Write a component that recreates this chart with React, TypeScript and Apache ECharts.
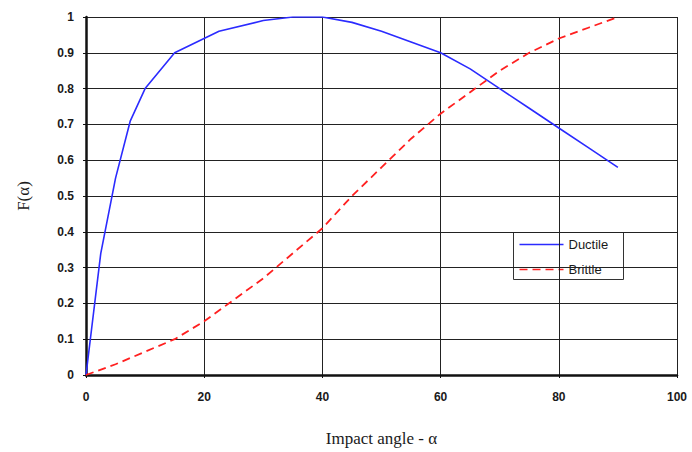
import React, { useEffect, useRef } from "react";
import * as echarts from "echarts";

const xTicks = [0, 20, 40, 60, 80, 100];
const ductileAngles = [0, 2.5, 5, 7.5, 10, 15, 22.5, 30, 35, 40, 45, 50, 55, 60, 65, 70, 75, 80, 85, 90];
const ductileValues = [0, 0.34, 0.55, 0.71, 0.8, 0.9, 0.96, 0.99, 1.0, 1.0, 0.985, 0.96, 0.93, 0.9, 0.855, 0.8, 0.745, 0.69, 0.635, 0.58];
const brittleAngles = [0, 5, 10, 15, 20, 25, 30, 35, 40, 45, 50, 55, 60, 65, 70, 75, 80, 85, 90];
const brittleValues = [0, 0.03, 0.065, 0.1, 0.15, 0.21, 0.27, 0.34, 0.41, 0.5, 0.58, 0.66, 0.73, 0.79, 0.85, 0.9, 0.94, 0.97, 1.0];
const legendNames = ["Ductile", "Brittle"];

const BLUE = "#2b2bff";
const RED = "#ff2020";
const DASH = [8, 5];

export default function App() {
  const ref = useRef<HTMLDivElement>(null);
  useEffect(() => {
    if (!ref.current) return;
    const chart = echarts.init(ref.current, undefined, { renderer: "svg" });
    const labelFont = { fontFamily: "Liberation Sans, Arial, sans-serif", fontSize: 12, color: "#1a1a1a", fontWeight: "bold" as const };
    const legendFont = { fontFamily: "Liberation Sans, Arial, sans-serif", fontSize: 13, fill: "#1a1a1a" };
    chart.setOption({
      animation: false,
      backgroundColor: "#ffffff",
      grid: { left: 86, right: 15, top: 17, bottom: 74 },
      graphic: [
        {
          type: "group",
          left: 513,
          top: 232,
          z: 100,
          children: [
            { type: "rect", shape: { x: 0, y: 0, width: 110, height: 47 }, style: { fill: "#fff", stroke: "#333", lineWidth: 1 } },
            { type: "line", shape: { x1: 6, y1: 12, x2: 50, y2: 12 }, style: { stroke: BLUE, lineWidth: 1.6 } },
            { type: "text", x: 55, y: 12, style: { ...legendFont, text: legendNames[0], verticalAlign: "middle" } },
            { type: "line", shape: { x1: 6, y1: 37, x2: 50, y2: 37 }, style: { stroke: RED, lineWidth: 1.6, lineDash: DASH } },
            { type: "text", x: 55, y: 37, style: { ...legendFont, text: legendNames[1], verticalAlign: "middle" } },
          ],
        },
      ],
      xAxis: {
        type: "value",
        min: 0,
        max: 100,
        interval: 20,
        name: "Impact angle - α",
        nameLocation: "middle",
        nameGap: 55,
        nameTextStyle: { fontFamily: "Liberation Serif, Times New Roman, serif", fontSize: 17, color: "#1a1a1a" },
        axisLine: { show: true, lineStyle: { color: "#111", width: 2.5 } },
        axisTick: { show: true, length: 3, inside: false, lineStyle: { color: "#111" } },
        axisLabel: { ...labelFont, margin: 16, formatter: (v: number) => (xTicks.includes(v) ? String(v) : "") },
        splitLine: { show: true, lineStyle: { color: "#222", width: 1 } },
      },
      yAxis: {
        type: "value",
        min: 0,
        max: 1,
        interval: 0.1,
        name: "F(α)",
        nameLocation: "middle",
        nameGap: 54,
        nameTextStyle: { fontFamily: "Liberation Serif, Times New Roman, serif", fontSize: 17, color: "#1a1a1a" },
        axisLine: { show: true, lineStyle: { color: "#111", width: 2.5 } },
        axisTick: { show: true, length: 3, lineStyle: { color: "#111" } },
        axisLabel: { ...labelFont, margin: 12, formatter: (v: number) => (v === 0 || v === 1 ? String(v) : v.toFixed(1)) },
        splitLine: { show: true, lineStyle: { color: "#222", width: 1 } },
      },
      series: [
        {
          name: legendNames[0],
          type: "line",
          symbol: "none",
          data: ductileAngles.map((a, i) => [a, ductileValues[i]]),
          lineStyle: { color: BLUE, width: 1.6 },
          itemStyle: { color: BLUE },
        },
        {
          name: legendNames[1],
          type: "line",
          symbol: "none",
          data: brittleAngles.map((a, i) => [a, brittleValues[i]]),
          lineStyle: { color: RED, width: 1.8, type: DASH },
          itemStyle: { color: RED },
        },
      ],
    });
    return () => chart.dispose();
  }, []);
  return <div ref={ref} style={{ width: 692, height: 452, position: "absolute", left: 0, top: 0 }} />;
}
